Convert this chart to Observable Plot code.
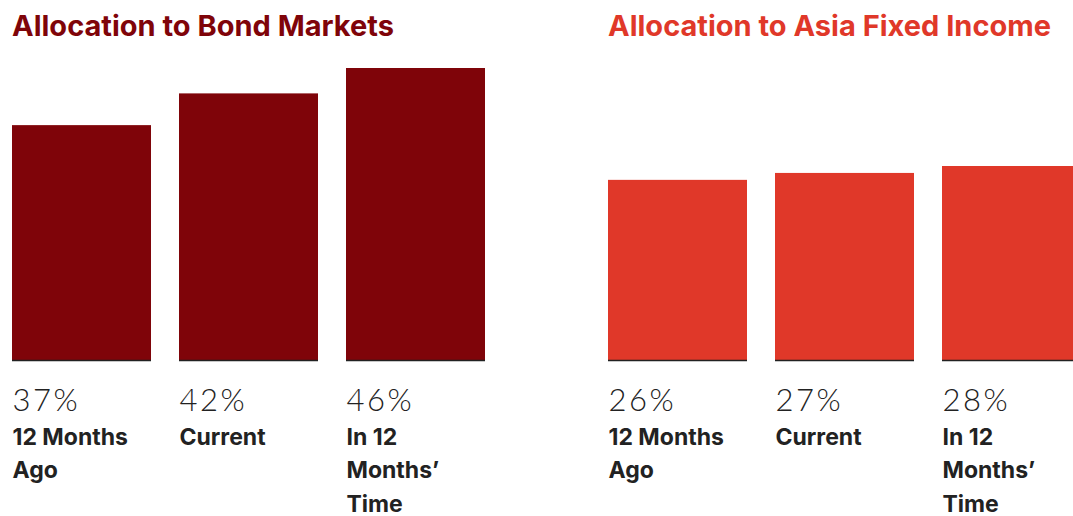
<!DOCTYPE html>
<html>
<head>
<meta charset="utf-8">
<script src="https://cdn.jsdelivr.net/npm/d3@7"></script>
<script src="https://cdn.jsdelivr.net/npm/@observablehq/plot@0.6"></script>
<style>
  html, body { margin: 0; padding: 0; background: #fff; overflow: hidden; width: 1073px; height: 516px; }
  .panel { position: absolute; top: 0; }
  .title { position: absolute; top: 8px; font-family: Inter, "Liberation Sans", sans-serif; font-weight: 700; font-size: 29px; letter-spacing: 0px; white-space: nowrap; }
  .chart { position: absolute; top: 50px; left: 0; }
  .val text { letter-spacing: 2.5px; }
</style>
</head>
<body>
<div id="left" class="panel" style="left:0;width:536px;height:516px"></div>
<div id="right" class="panel" style="left:536px;width:545px;height:516px"></div>
<script>
const categories = ["12 Months Ago", "Current", "In 12 Months’ Time"];
const categoryLabels = ["12 Months\nAgo", "Current", "In 12\nMonths’\nTime"];
const bondValues = [37, 42, 46];
const asiaValues = [26, 27, 28];
const titles = ["Allocation to Bond Markets", "Allocation to Asia Fixed Income"];
const colors = ["#7f0409", "#e03829"];

function panel(el, title, color, values, opts) {
  const data = categories.map((c, i) => ({cat: c, label: categoryLabels[i], value: values[i], text: values[i] + "%"}));
  const t = document.createElement("div");
  t.className = "title";
  t.style.left = opts.marginLeft + "px";
  t.style.color = color;
  t.textContent = title;
  el.appendChild(t);
  const H = 466, base = 310;
  const bw = 139;
  const chart = Plot.plot({
    width: opts.width,
    height: H,
    marginLeft: opts.marginLeft,
    marginRight: opts.marginRight,
    marginTop: opts.marginTop,
    marginBottom: H - base,
    x: {domain: categories, paddingInner: 0.168, paddingOuter: 0, axis: null},
    y: {domain: opts.yDomain, axis: null},
    style: {background: "transparent", overflow: "visible"},
    marks: [
      Plot.barY(data, {x: "cat", y: "value", fill: color}),
      Plot.tickY(data, {x: "cat", y: 0, stroke: "#222", strokeWidth: 1.3}),
      Plot.text(data, {x: "cat", frameAnchor: "bottom", text: "text", textAnchor: "start", lineAnchor: "top",
        dx: -bw / 2, dy: 28.8, fontSize: 31, fontWeight: 300, fill: "#222", className: "val",
        fontFamily: "Lato, 'Open Sans', sans-serif"}),
      Plot.text(data, {x: "cat", frameAnchor: "bottom", text: "label", textAnchor: "start", lineAnchor: "top",
        dx: -bw / 2, dy: 60, fontSize: 23, fontWeight: 700, fill: "#222", lineHeight: 1.47,
        fontFamily: "Inter, 'Liberation Sans', sans-serif"})
    ]
  });
  chart.classList.add("chart");
  el.appendChild(chart);
}

panel(document.getElementById("left"), titles[0], colors[0], bondValues,
  {width: 536, marginLeft: 12, marginRight: 51, marginTop: 18, yDomain: [0, 46]});
panel(document.getElementById("right"), titles[1], colors[1], asiaValues,
  {width: 545, marginLeft: 72, marginRight: 0, marginTop: 116, yDomain: [0, 28]});
</script>
</body>
</html>
